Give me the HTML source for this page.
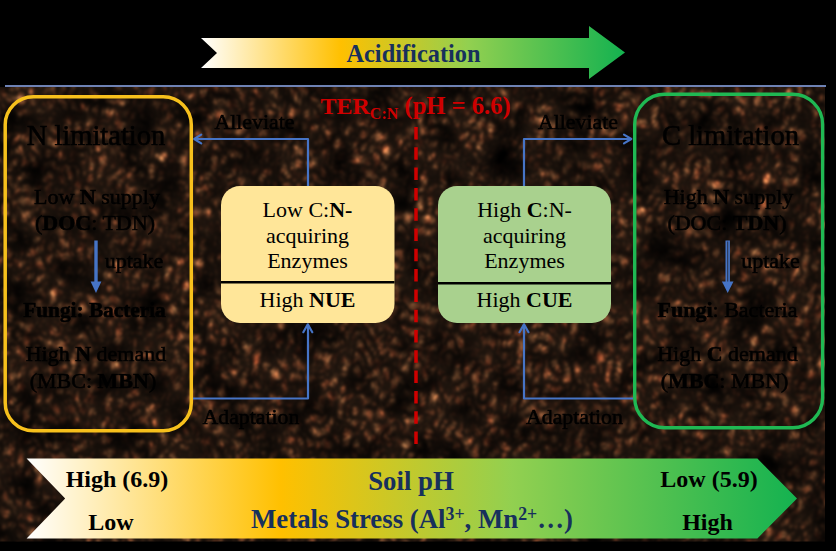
<!DOCTYPE html>
<html>
<head>
<meta charset="utf-8">
<style>
html,body{margin:0;padding:0;background:#000;}
body{width:836px;height:551px;overflow:hidden;position:relative;}
svg{position:absolute;left:0;top:0;}
text{font-family:"Liberation Serif",serif;}
</style>
</head>
<body>
<svg width="836" height="551" viewBox="0 0 836 551">
<defs>
  <linearGradient id="grad" x1="0" y1="0" x2="1" y2="0">
    <stop offset="0" stop-color="#FFFFFF"/>
    <stop offset="0.33" stop-color="#FFC000"/>
    <stop offset="0.63" stop-color="#92D050"/>
    <stop offset="1" stop-color="#14B250"/>
  </linearGradient>
  <filter id="soil" x="0" y="0" width="100%" height="100%" color-interpolation-filters="sRGB">
  <feTurbulence type="turbulence" baseFrequency="0.1 0.08" numOctaves="3" seed="5" result="a"/>
  <feColorMatrix in="a" type="matrix" values="1 0.12 0 0 -0.01  1 -0.02 0 0 0.01  1 -0.05 0 0 0.025  0 0 0 0 1" result="g"/>
  <feComponentTransfer in="g" result="c">
    <feFuncR type="gamma" amplitude="1.45" exponent="2.7" offset="0.11"/>
    <feFuncG type="gamma" amplitude="0.95" exponent="2.8" offset="0.077"/>
    <feFuncB type="gamma" amplitude="0.57" exponent="2.9" offset="0.052"/>
  </feComponentTransfer>
  <feTurbulence type="fractalNoise" baseFrequency="0.03" numOctaves="2" seed="21" result="b"/>
  <feColorMatrix in="b" type="matrix" values="2.0 0 0 0 -0.25  2.0 0 0 0 -0.25  2.0 0 0 0 -0.25  0 0 0 0 1" result="m"/>
  <feComposite in="c" in2="m" operator="arithmetic" k1="1" k2="0" k3="0" k4="0" result="cm"/>
  <feGaussianBlur in="cm" stdDeviation="1.3"/>
</filter>
  <filter id="soft" x="-5%" y="-20%" width="110%" height="140%"><feGaussianBlur stdDeviation="0.7"/></filter>
  <clipPath id="tc"><rect x="0" y="87" width="825" height="454.6"/></clipPath>
</defs>
<rect x="0" y="0" width="836" height="551" fill="#000"/>
<!-- soil texture -->
<g clip-path="url(#tc)"><rect x="-150" y="-150" width="1136" height="851" filter="url(#soil)" transform="rotate(8 412 314)"/></g>
<!-- top blue line -->
<rect x="5" y="85" width="821" height="2" fill="#6E82B4"/>

<!-- top arrow -->
<polygon points="201,38 589,38 589,26 625,52.5 589,79 589,68 201,68 217,53" fill="url(#grad)"/>
<text x="413.5" y="61.5" font-size="24.4" font-weight="bold" fill="#17305C" text-anchor="middle">Acidification</text>

<!-- bottom banner -->
<polygon points="26.6,458.6 757.4,458.6 797,498.6 757.4,538.4 26.6,538.4 65.2,498.6" fill="url(#grad)"/>
<text x="117" y="487" font-size="24" font-weight="bold" fill="#000" text-anchor="middle">High (6.9)</text>
<text x="111" y="530" font-size="24" font-weight="bold" fill="#000" text-anchor="middle">Low</text>
<text x="411" y="489.5" font-size="26.8" font-weight="bold" fill="#17305C" text-anchor="middle">Soil pH</text>
<text x="412" y="528.3" font-size="26.8" font-weight="bold" fill="#17305C" text-anchor="middle">Metals Stress (Al<tspan font-size="17.8" dy="-8.5">3+</tspan><tspan dy="8.5">, Mn</tspan><tspan font-size="17.8" dy="-8.5">2+</tspan><tspan dy="8.5">…)</tspan></text>
<text x="709" y="487" font-size="24" font-weight="bold" fill="#000" text-anchor="middle">Low (5.9)</text>
<text x="707.5" y="530" font-size="24" font-weight="bold" fill="#000" text-anchor="middle">High</text>

<!-- dashed red line -->
<line x1="416" y1="127" x2="416" y2="446" stroke="#D00000" stroke-width="3.5" stroke-dasharray="12.5 7.8"/>
<text x="320.5" y="114" font-size="24" font-weight="bold" fill="#CF0000">TER<tspan font-size="16" dy="5">C:N</tspan><tspan dy="-5" font-size="24.6"> (pH = 6.6)</tspan></text>

<!-- limitation boxes -->
<rect x="5.2" y="96.8" width="186.1" height="334" rx="28" ry="28" fill="none" stroke="#F7C01C" stroke-width="3.5"/>
<rect x="634.7" y="94.3" width="187.9" height="333.5" rx="30" ry="30" fill="none" stroke="#1FB853" stroke-width="3.4"/>

<!-- connectors -->
<g fill="none" stroke="#4674C6" stroke-width="2.2" stroke-linecap="round" stroke-linejoin="round">
  <path d="M308,186 V139 H194" stroke-linecap="butt"/>
  <path d="M201.2,134.6 L194.2,139 L201.2,143.4"/>
  <path d="M524,186 V139 H631" stroke-linecap="butt"/>
  <path d="M624,134.6 L631.3,139 L624,143.4"/>
  <path d="M193,398.5 H308 V325" stroke-linecap="butt"/>
  <path d="M303.3,332.2 L307.8,324.3 L312.3,332.2"/>
  <path d="M633,398.5 H524 V325" stroke-linecap="butt"/>
  <path d="M519.5,332.2 L524,324.3 L528.5,332.2"/>
  <path d="M96,240.5 V284" stroke-linecap="butt" stroke-width="3.4"/>
  <path d="M727.7,240.5 V284" stroke-linecap="butt" stroke-width="4.4"/>
  <path d="M727.7,241.5 V282" stroke="#2A3550" stroke-linecap="butt" stroke-width="1.1"/>
</g>
<polygon points="90.6,281.5 101.4,281.5 96,293" fill="#4674C6"/>
<polygon points="721.9,281.5 733.5,281.5 727.7,293" fill="#4674C6"/>

<!-- center boxes -->
<rect x="221" y="186" width="173.5" height="137" rx="19" ry="19" fill="#FFE699"/>
<rect x="221" y="281" width="173.5" height="2.5" fill="#000"/>
<rect x="438" y="186" width="173" height="137" rx="19" ry="19" fill="#A9D18E"/>
<rect x="438" y="282" width="173" height="2.5" fill="#000"/>

<g font-size="22" fill="#000" text-anchor="middle">
  <text x="307.5" y="216.8">Low C:<tspan font-weight="bold">N-</tspan></text>
  <text x="307.5" y="242.5">acquiring</text>
  <text x="307.5" y="268.4">Enzymes</text>
  <text x="307.5" y="307">High <tspan font-weight="bold">NUE</tspan></text>
  <text x="524.5" y="216.8">High <tspan font-weight="bold">C</tspan>:N-</text>
  <text x="524.5" y="242.5">acquiring</text>
  <text x="524.5" y="268.4">Enzymes</text>
  <text x="524.5" y="307">High <tspan font-weight="bold">CUE</tspan></text>
</g>

<!-- dark labels -->
<g font-size="21.8" fill="#000" stroke="#000" stroke-width="0.6" filter="url(#soft)">
  <text x="214.5" y="129">Alleviate</text>
  <text x="538" y="129">Alleviate</text>
  <text x="202.5" y="423.5">Adaptation</text>
  <text x="526" y="423.5">Adaptation</text>
</g>
<g fill="#000" stroke="#000" stroke-width="0.6" text-anchor="middle" filter="url(#soft)">
  <text x="96" y="145" font-size="28.5">N limitation</text>
  <text x="730.5" y="145" font-size="28.5">C limitation</text>
  <g font-size="22">
    <text x="97" y="204">Low <tspan font-weight="bold">N</tspan> supply</text>
    <text x="95" y="230">(<tspan font-weight="bold">DOC</tspan>: TDN)</text>
    <text x="134" y="268">uptake</text>
    <text x="94.5" y="317" font-size="21.3" font-weight="bold">Fungi: Bacteria</text>
    <text x="96" y="361">High <tspan font-weight="bold">N</tspan> demand</text>
    <text x="93" y="387.5">(MBC: <tspan font-weight="bold">MBN</tspan>)</text>

    <text x="728.5" y="204">High <tspan font-weight="bold">N</tspan> supply</text>
    <text x="727" y="230">(DOC: <tspan font-weight="bold">TDN</tspan>)</text>
    <text x="770.5" y="268">uptake</text>
    <text x="727.5" y="317"><tspan font-weight="bold">Fungi</tspan>: Bacteria</text>
    <text x="727.5" y="361">High <tspan font-weight="bold">C</tspan> demand</text>
    <text x="724.5" y="387.5">(<tspan font-weight="bold">MBC</tspan>: MBN)</text>
  </g>
</g>
</svg>
</body>
</html>
